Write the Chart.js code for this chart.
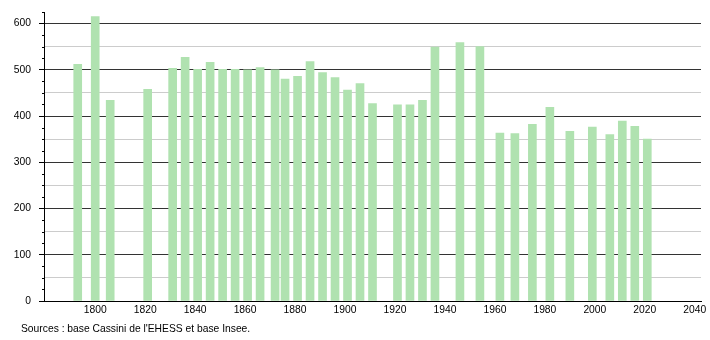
<!DOCTYPE html>
<html>
<head>
<meta charset="utf-8">
<script src="https://cdn.jsdelivr.net/npm/chart.js@4/dist/chart.umd.min.js"></script>
<style>
  body { margin: 0; background: #fff; }
  #wrap { position: relative; width: 710px; height: 340px; }
  #source {
    position: absolute; left: 21px; top: 323px;
    font: 10.3px "Liberation Sans", Arial, sans-serif; color: #000;
  }
</style>
</head>
<body>
<div id="wrap">
  <canvas id="popChart" width="710" height="340"></canvas>
  <div id="source">Sources : base Cassini de l'EHESS et base Insee.</div>
</div>
<script>
const years = [1793, 1800, 1806, 1821, 1831, 1836, 1841, 1846, 1851, 1856, 1861, 1866,
               1872, 1876, 1881, 1886, 1891, 1896, 1901, 1906, 1911, 1921, 1926, 1931,
               1936, 1946, 1954, 1962, 1968, 1975, 1982, 1990, 1999, 2006, 2011, 2016, 2021];
const population = [512, 615, 434, 458, 503, 527, 501, 516, 501, 501, 500, 505,
                    500, 480, 486, 518, 494, 483, 456, 470, 427, 424, 424, 434,
                    549, 559, 550, 363, 362, 382, 419, 367, 376, 360, 389, 378, 350];
const xTicks = [1800, 1820, 1840, 1860, 1880, 1900, 1920, 1940, 1960, 1980, 2000, 2020, 2040];
const yLabels = [0, 100, 200, 300, 400, 500, 600];

const yTicks = [];
for (let v = 0; v <= 625; v += 25) yTicks.push(v);

// short ticks for the 25-step lines, long ones come from Chart.js
const minorTicks = {
  id: 'minorTicks',
  afterDraw(chart) {
    const y = chart.scales.y;
    const ctx = chart.ctx;
    ctx.save();
    ctx.strokeStyle = '#000';
    ctx.lineWidth = 1;
    yTicks.forEach(v => {
      if (v % 100 === 0) return;
      const py = Math.round(y.getPixelForValue(v)) + 0.5;
      ctx.beginPath();
      ctx.moveTo(y.right - 2, py);
      ctx.lineTo(y.right, py);
      ctx.stroke();
    });
    ctx.restore();
  }
};

new Chart(document.getElementById('popChart').getContext('2d'), {
  type: 'bar',
  data: {
    datasets: [{
      data: years.map((yr, i) => ({ x: yr, y: population[i] })),
      backgroundColor: 'rgb(176, 226, 176)',
      borderWidth: 0,
      barThickness: 8
    }]
  },
  options: {
    responsive: false,
    animation: false,
    layout: { padding: { left: 0, right: 9, top: 12, bottom: 23 } },
    plugins: {
      legend: { display: false },
      tooltip: { enabled: false }
    },
    scales: {
      x: {
        type: 'linear',
        offset: false,
        min: 1779.5,
        max: 2042.5,
        afterBuildTicks: scale => { scale.ticks = xTicks.map(v => ({ value: v })); },
        afterFit: scale => { scale.height = 16; scale.paddingLeft = 0; scale.paddingRight = 0; },
        grid: { display: false, drawTicks: false, offset: false },
        border: { color: '#000', width: 1 },
        ticks: {
          padding: 3,
          color: '#000',
          font: { family: 'Liberation Sans', size: 10.3 },
          callback: v => String(v)
        }
      },
      y: {
        min: 0,
        max: 625,
        afterBuildTicks: scale => { scale.ticks = yTicks.map(v => ({ value: v })); },
        afterFit: scale => { scale.width = 44; scale.paddingTop = 0; scale.paddingBottom = 0; },
        grid: {
          color: ctx => ctx.tick.value === 0 ? '#000' : (ctx.tick.value % 100 === 0 ? '#333' : '#ccc'),
          tickColor: ctx => ctx.tick.value % 100 === 0 ? '#000' : 'rgba(0,0,0,0)',
          tickLength: 5
        },
        border: { color: '#000', width: 1 },
        ticks: {
          padding: 8,
          color: '#000',
          font: { family: 'Liberation Sans', size: 10.3 },
          callback: v => yLabels.includes(v) ? String(v) : ''
        }
      }
    }
  },
  plugins: [minorTicks]
});
</script>
</body>
</html>
